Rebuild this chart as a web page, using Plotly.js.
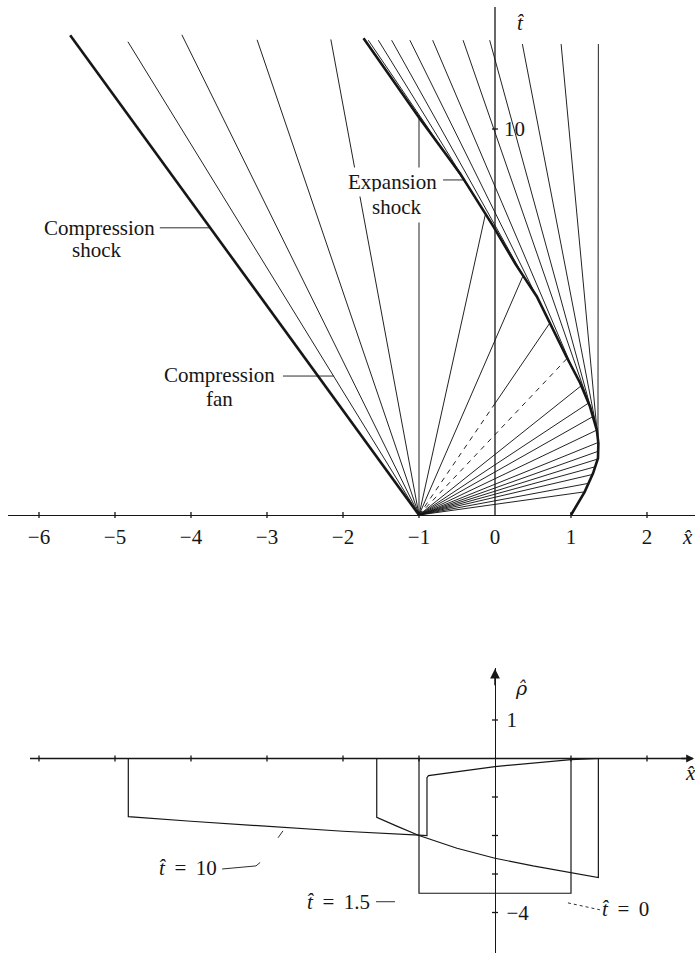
<!DOCTYPE html>
<html><head><meta charset="utf-8">
<script src="https://cdn.plot.ly/plotly-3.0.1.min.js"></script>
<style>html,body{margin:0;padding:0;background:#fff}#chart{width:695px;height:953px}</style>
</head><body><div id="chart"></div>
<script>
// ================= DATA =================
// Upper diagram: characteristics in the (x̂, t̂) plane
const fanOriginX = -1;
const fanOriginT = 0;
// right-hand boundary: shock leaving (1,0), then the expansion shock
const shockX = [1.0, 1.18, 1.29, 1.355, 1.36, 1.34, 1.25, 1.12, 0.94, 0.72, 0.55, 0.27, -0.02, -0.46, -1.0, -1.73];
const shockT = [0, 0.6, 1.08, 1.47, 1.86, 2.2, 2.81, 3.42, 4.10, 4.97, 5.66, 6.5, 7.47, 8.85, 10.3, 12.35];
// compression shock (straight, from the fan origin)
const compShockEndX = -5.59;
const compShockEndT = 12.43;
// compression fan rays (from the fan origin, to the top)
const compFanTopX = [-4.83, -4.12, -3.13, -2.16];
const compFanTopT = [12.26, 12.44, 12.31, 12.32];
// fan rays to the right: they end on the right-hand shock at these times
const fanRightEndT = [0.6, 0.82, 1.05, 1.25, 1.45, 1.65, 1.88, 2.2, 2.55, 2.9, 3.35, 4.06, 4.97, 6.2, 7.8, 10.3];
// characteristics behind the expansion shock: start on the shock, end at the top
const expStartT = [8.3, 7.2, 6.2, 5.0, 3.8, 2.8, 2.35, 2.2, 2.1, 1.95];
const expTopX = [-1.667, -1.535, -1.36, -1.12, -0.82, -0.42, -0.07, 0.36, 0.87, 1.36];
const expTopT = [12.3, 12.3, 12.3, 12.3, 12.3, 12.3, 12.3, 12.2, 12.2, 12.2];
const xTicksTop = [-6, -5, -4, -3, -2, -1, 0, 1, 2];
const tTicks = [10];

// Lower diagram: density profiles
const t0X = [-1, -1, 1, 1];
const t0Rho = [0, -3.5, -3.5, 0];
const t15X = [-1.556, -1.556, -1.3, -1.0, -0.5, 0, 0.5, 1.0, 1.36, 1.36];
const t15Rho = [0, -1.53, -1.75, -2.0, -2.33, -2.59, -2.79, -2.97, -3.09, 0];
const t10X = [-4.825, -4.825, -4, -3, -2, -1, -0.895, -0.895, -0.875, 0, 1.0, 1.37];
const t10Rho = [0, -1.51, -1.63, -1.76, -1.89, -1.99, -2.0, -0.5, -0.445, -0.21, -0.03, 0];
const xTicksBottom = [-6, -5, -4, -3, -2, -1, 1, 2];
const rhoTicks = [1, -1, -2, -3, -4];
const rhoTickText = ['1', '', '', '', '\u22124'];

// ================= STYLE / LAYOUT =================
const fanRightDashFrac = [0,0,0,0,0,0,0,0,0,0,0,1,0.58,0,0,0];
const W = 695, H = 953, ML = 8, MR = 0;
const pxPerX = 76, xZeroPx = 495;
const xMin = (ML - xZeroPx) / pxPerX, xMax = (W - MR - xZeroPx) / pxPerX;
const P1 = {zeroPx: 515, per: 38.6, topPx: 6, botPx: 522};
const P2 = {zeroPx: 758.5, per: 38.5, topPx: 668, botPx: 953};
const rangeOf = p => [(p.zeroPx - p.botPx) / p.per, (p.zeroPx - p.topPx) / p.per];
const domainOf = p => [1 - p.botPx / H, 1 - p.topPx / H];
const xFrac0 = (0 - xMin) / (xMax - xMin);
const INK = '#161616';
const FONT = 'Liberation Serif, DejaVu Serif, Times New Roman, serif';

function shockAt(t) {
  for (let i = 1; i < shockT.length; i++) {
    if (t <= shockT[i]) {
      const f = (t - shockT[i-1]) / (shockT[i] - shockT[i-1]);
      return shockX[i-1] + f * (shockX[i] - shockX[i-1]);
    }
  }
  return shockX[shockX.length - 1];
}
function collect(segs) {
  const x = [], y = [];
  segs.forEach(s => { x.push(s[0], s[2], null); y.push(s[1], s[3], null); });
  return {x, y};
}
function lineTrace(segs, width, dash, xa, ya) {
  const c = collect(segs);
  return {type: 'scatter', mode: 'lines', x: c.x, y: c.y, xaxis: xa || 'x', yaxis: ya || 'y',
    line: {color: INK, width: width, dash: dash || 'solid'}, hoverinfo: 'skip', showlegend: false};
}

// ---- upper diagram segments
const thin = [], dashed = [];
compFanTopX.forEach((x, i) => thin.push([fanOriginX, fanOriginT, x, compFanTopT[i]]));
fanRightEndT.forEach((T, i) => {
  const ex = shockAt(T), f = fanRightDashFrac[i];
  const mx = fanOriginX + f * (ex - fanOriginX), mt = fanOriginT + f * (T - fanOriginT);
  if (f > 0) dashed.push([fanOriginX, fanOriginT, mx, mt]);
  if (f < 1) thin.push([mx, mt, ex, T]);
});
expStartT.forEach((T, i) => thin.push([shockAt(T), T, expTopX[i], expTopT[i]]));

const tickD1 = 3 / P1.per, tickD2 = 3 / P2.per, tickDx = 3 / pxPerX;
const axisSegsTop = [[0, 0, 0, (P1.zeroPx - 7) / P1.per]];
xTicksTop.filter(v => v !== 0).forEach(v => axisSegsTop.push([v, -tickD1, v, tickD1]));
tTicks.forEach(v => axisSegsTop.push([-tickDx, v, tickDx, v]));

const axisSegsBot = [[(30 - xZeroPx) / pxPerX, 0, (W - 2 - xZeroPx) / pxPerX, 0]];
xTicksBottom.forEach(v => axisSegsBot.push([v, -tickD2, v, tickD2]));
rhoTicks.forEach(v => axisSegsBot.push([-tickDx, v, tickDx, v]));

const traces = [
  lineTrace(thin, 0.95),
  lineTrace(dashed, 0.95, '5px,5px'),
  {type: 'scatter', mode: 'lines', x: [fanOriginX, compShockEndX], y: [fanOriginT, compShockEndT],
   line: {color: INK, width: 2.6}, hoverinfo: 'skip', showlegend: false},
  {type: 'scatter', mode: 'lines', x: shockX, y: shockT,
   line: {color: INK, width: 2.6}, hoverinfo: 'skip', showlegend: false},
  lineTrace(axisSegsTop, 1.3),
  // lower diagram
  lineTrace(axisSegsBot, 1.3, 'solid', 'x2', 'y2'),
  {type: 'scatter', mode: 'lines', x: t0X, y: t0Rho, xaxis: 'x2', yaxis: 'y2',
   line: {color: INK, width: 1.2}, hoverinfo: 'skip', showlegend: false},
  {type: 'scatter', mode: 'lines', x: t15X, y: t15Rho, xaxis: 'x2', yaxis: 'y2',
   line: {color: INK, width: 1.2}, hoverinfo: 'skip', showlegend: false},
  {type: 'scatter', mode: 'lines', x: t10X, y: t10Rho, xaxis: 'x2', yaxis: 'y2',
   line: {color: INK, width: 1.2}, hoverinfo: 'skip', showlegend: false}
];

// leader lines for labels (data coordinates of each panel)
const leadersTop = [
  [-4.41, 7.44, -3.74, 7.44],
  [-2.79, 3.60, -2.12, 3.60],
  [-0.684, 8.68, -0.41, 8.68]
];
const leadersBot = [
  [-3.59, -2.87, -3.145, -2.79], [-3.145, -2.79, -3.09, -2.70], [-2.855, -2.06, -2.79, -1.88],
  [-1.565, -3.72, -1.316, -3.72]
];
const leadersBotDashed = [[0.96, -3.75, 1.38, -3.93]];
traces.push(lineTrace(leadersTop, 0.9));
traces.push(lineTrace(leadersBot, 0.9, 'solid', 'x2', 'y2'));
traces.push(lineTrace(leadersBotDashed, 0.9, '3px,3px', 'x2', 'y2'));

const f21 = {family: FONT, size: 21, color: INK};
function lab(text, x, y, xa, ya, extra) {
  return Object.assign({text: text, x: x, y: y, xref: xa, yref: ya, showarrow: false,
    xanchor: 'center', yanchor: 'middle', font: f21}, extra || {});
}
const sp = ' \u2009';
const hatT = '<i>t\u0302</i>', hatX = '<i>x\u0302</i>', hatRho = '<i>\u03c1\u0302</i>';
const annotations = [
  lab('Compression', -5.20, 7.44, 'x', 'y'),
  lab('shock', -5.25, 6.87, 'x', 'y'),
  lab('Compression', -3.62, 3.63, 'x', 'y'),
  lab('fan', -3.63, 3.01, 'x', 'y'),
  lab('Expansion', -1.355, 8.63, 'x', 'y', {bgcolor: '#ffffff', borderpad: 2}),
  lab('shock', -1.30, 7.98, 'x', 'y', {bgcolor: '#ffffff', borderpad: 3}),
  lab(hatT, 0.33, 12.75, 'x', 'y'),
  lab(hatX, (687 - ML) / (W - ML - MR), 1 - 537 / H, 'paper', 'paper'),
  lab(hatRho, 0.355, 1.83, 'x2', 'y2', {font: {family: 'DejaVu Serif, serif', size: 19, color: INK}}),
  lab(hatX, 2.57, -0.38, 'x2', 'y2'),
  lab(hatT + sp + '=' + sp + '10', -4.035, -2.84, 'x2', 'y2'),
  lab(hatT + sp + '=' + sp + '1.5', -2.06, -3.72, 'x2', 'y2'),
  lab(hatT + sp + '=' + sp + '0', 1.72, -3.91, 'x2', 'y2'),
  // axis arrowheads
  {x: (W - 1 - xZeroPx) / pxPerX, y: 0, xref: 'x2', yref: 'y2', ax: -14, ay: 0, text: '', showarrow: true,
   arrowhead: 2, arrowsize: 1.2, arrowwidth: 1.3, arrowcolor: INK},
  {x: 0, y: rangeOf(P2)[1] - 0.02, xref: 'x2', yref: 'y2', ax: 0, ay: 18, text: '', showarrow: true,
   arrowhead: 2, arrowsize: 1.3, arrowwidth: 1.5, arrowcolor: INK}
];

const layout = {
  width: W, height: H, margin: {l: ML, r: MR, t: 0, b: 0},
  paper_bgcolor: '#fff', plot_bgcolor: 'rgba(0,0,0,0)', showlegend: false,
  font: f21,
  xaxis: {range: [xMin, xMax], domain: [0, 1], anchor: 'free', position: 1 - P1.zeroPx / H,
    showline: true, linecolor: INK, linewidth: 1.3, showgrid: false, zeroline: false,
    tickmode: 'array', tickvals: xTicksTop, ticks: '', ticklabelstandoff: 2, tickfont: f21},
  yaxis: {range: rangeOf(P1), domain: domainOf(P1), anchor: 'free', position: xFrac0, side: 'right',
    showline: false, showgrid: false, zeroline: false, tickmode: 'array', tickvals: tTicks, ticks: '',
    ticklabelstandoff: 8, tickfont: f21},
  xaxis2: {range: [xMin, xMax], domain: [0, 1], anchor: 'free', position: 1 - P2.zeroPx / H,
    showline: false, showgrid: false, zeroline: false, showticklabels: false, ticks: ''},
  yaxis2: {range: rangeOf(P2), domain: domainOf(P2), anchor: 'free', position: xFrac0, side: 'right',
    showline: true, linecolor: INK, linewidth: 1.3, showgrid: false, zeroline: false,
    tickmode: 'array', tickvals: rhoTicks, ticktext: rhoTickText, ticks: '', ticklabelstandoff: 6, tickfont: f21},
  annotations: annotations
};
Plotly.newPlot('chart', traces, layout, {staticPlot: true, displayModeBar: false});
</script>
</body></html>
